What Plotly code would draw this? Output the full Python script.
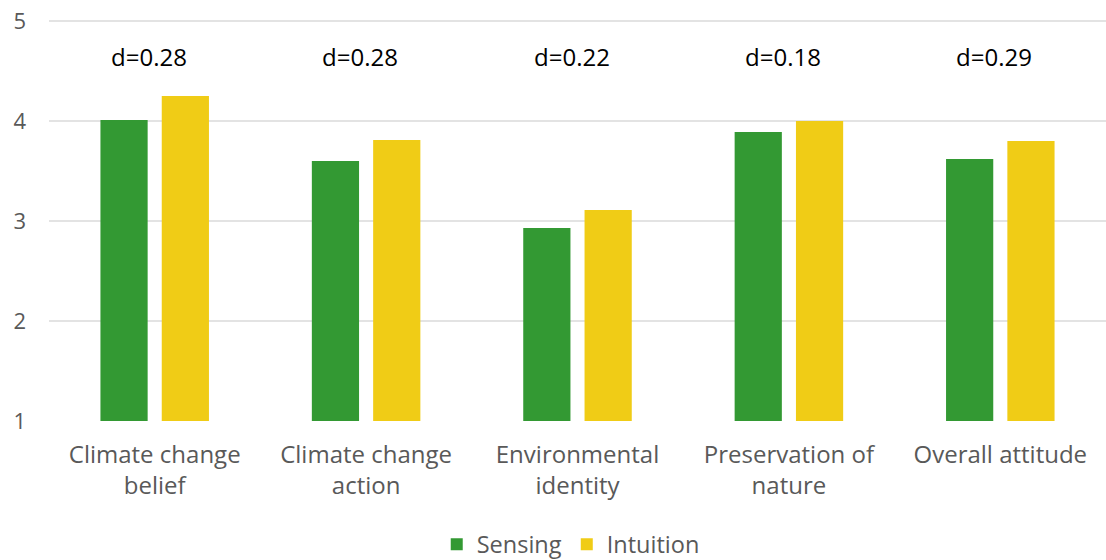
import plotly.graph_objects as go

categories = ["Climate change<br>belief", "Climate change<br>action", "Environmental<br>identity",
              "Preservation of<br>nature", "Overall attitude"]
sensing = [4.01, 3.60, 2.93, 3.89, 3.62]
intuition = [4.25, 3.81, 3.11, 4.00, 3.80]
effect_labels = ["d=0.28", "d=0.28", "d=0.22", "d=0.18", "d=0.29"]
tick_vals = [1, 2, 3, 4, 5]
label_y = 4.65

FONT = "Open Sans"
GRAY = "#595959"

fig = go.Figure()
fig.add_trace(go.Bar(name="Sensing", x=categories, y=sensing, marker_color="#339933",
                     marker_line_width=0))
fig.add_trace(go.Bar(name="Intuition", x=categories, y=intuition, marker_color="#F0CC16",
                     marker_line_width=0))

for c, t in zip(categories, effect_labels):
    fig.add_annotation(x=c, y=label_y, text=t, showarrow=False, xshift=-6,
                       font=dict(family=FONT, size=24, color="#000000"))

fig.update_layout(
    width=1106, height=560,
    margin=dict(l=49, r=0, t=19, b=139, autoexpand=False),
    paper_bgcolor="white", plot_bgcolor="white",
    barmode="group", bargap=0.42, bargroupgap=0.23,
    font=dict(family=FONT, size=24, color=GRAY),
    legend=dict(orientation="h", x=0.4936, xanchor="center", y=-0.2525, yanchor="top",
                font=dict(family=FONT, size=23.5, color=GRAY), itemwidth=30),
    xaxis=dict(showgrid=False, ticks="", tickfont=dict(family=FONT, size=24, color=GRAY),
               showline=False, automargin=False, ticklabelstandoff=17),
    yaxis=dict(range=[1, 5.02], tickmode="array", tickvals=tick_vals, showgrid=True,
               gridcolor="#e3e3e3", gridwidth=2, zeroline=False, ticks="",
               ticklabelstandoff=22, automargin=False,
               tickfont=dict(family=FONT, size=22, color=GRAY)),
)

fig.write_html("out.html", config={"displayModeBar": False},
               post_script="document.body.style.margin='0';document.body.style.overflow='hidden';")
